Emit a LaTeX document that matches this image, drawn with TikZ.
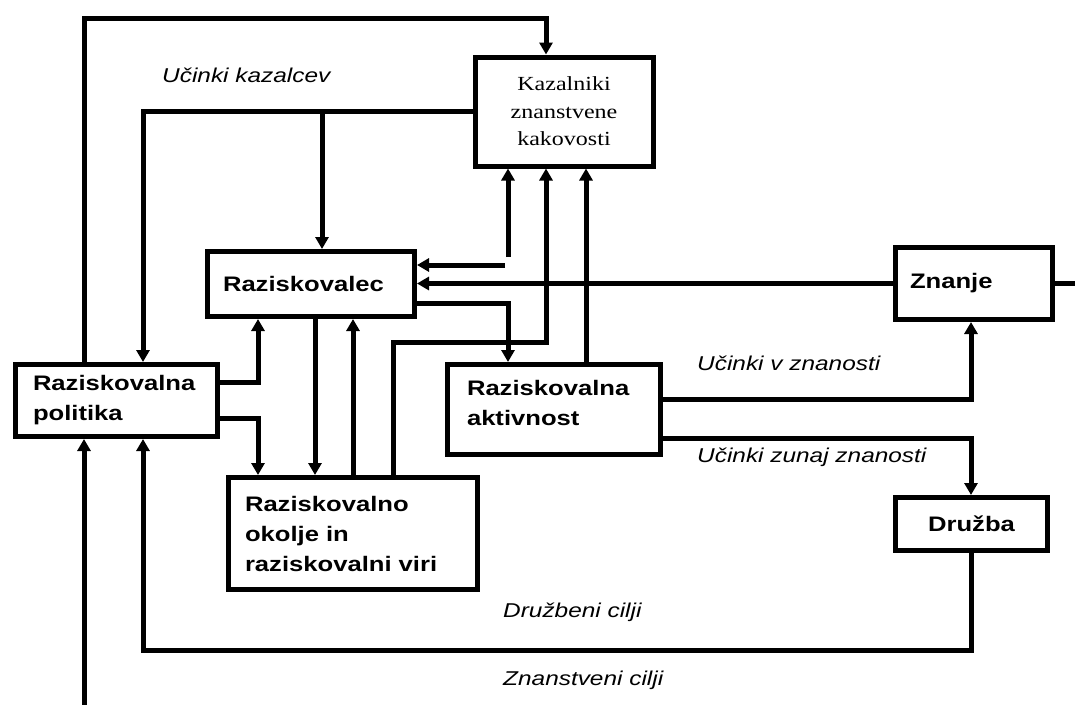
\documentclass[tikz,border=0pt]{standalone}
\usepackage{fontspec}
\usetikzlibrary{arrows.meta}
\newfontfamily\boxfont[FakeStretch=1.22]{Liberation Sans}
\newfontfamily\serfont[FakeStretch=1.2]{Liberation Serif}
\begin{document}
\begin{tikzpicture}[x=1pt,y=-1pt,
  bx/.style={draw, line width=5pt, rectangle, inner ysep=0pt,
    font={\boxfont\bfseries\fontsize{21}{30}\selectfont}},
  ln/.style={line width=5pt},
  arr/.style={line width=5pt, -{Triangle[length=12pt,width=13pt]}},
  lbl/.style={anchor=west, inner sep=0pt, font={\boxfont\itshape\fontsize{20}{24}\selectfont}}]
\fill[white] (0,0) rectangle (1075,704);
\useasboundingbox (0,0) rectangle (1075,704);

% boxes
\node[bx, minimum width=178pt, minimum height=109pt, align=center,
  font={\serfont\fontsize{20}{27.5}\selectfont}] (kaz) at (564,111.5) {Kazalniki\\znanstvene\\kakovosti};
\node[bx, minimum width=207pt, minimum height=65pt, inner xsep=15.5pt, text width=176pt, align=left] (raz) at (311,284) {Raziskovalec};
\node[bx, minimum width=202pt, minimum height=72pt, inner xsep=17.5pt, text width=167pt, align=left] (pol) at (116.5,400.5) {Raziskovalna\\politika};
\node[bx, minimum width=249pt, minimum height=112pt, inner xsep=16.5pt, text width=216pt, align=left] (oko) at (353,533.5) {Raziskovalno\\okolje in\\raziskovalni viri};
\node[bx, minimum width=213pt, minimum height=90pt, inner xsep=19.5pt, text width=174pt, align=left] (akt) at (554,409.5) {Raziskovalna\\aktivnost\\[-16pt]\mbox{}};
\node[bx, minimum width=157pt, minimum height=72pt, inner xsep=14.5pt, text width=128pt, align=left] (zn) at (974,283.5) {Znanje};
\node[bx, minimum width=152pt, minimum height=53pt, align=center] (dr) at (971.5,524) {Družba};

% helper coordinates
\coordinate (x84) at (84,0);
\coordinate (x143) at (143,0);
\coordinate (x258) at (258,0);
\coordinate (x315) at (315,0);
\coordinate (x322) at (322,0);
\coordinate (x353) at (353,0);
\coordinate (x393) at (393,0);
\coordinate (x505) at (505,0);
\coordinate (x508) at (508,0);
\coordinate (x546) at (546,0);
\coordinate (x586) at (586,0);
\coordinate (x971) at (971,0);
\coordinate (xR) at (1085,0);
\coordinate (y18) at (0,18);
\coordinate (y257) at (0,257);
\coordinate (y265) at (0,265);
\coordinate (y303) at (0,303);
\coordinate (y342) at (0,342);
\coordinate (y382) at (0,382);
\coordinate (y418) at (0,418);
\coordinate (y399) at (0,399);
\coordinate (y438) at (0,438);
\coordinate (y650) at (0,650);
\coordinate (y712) at (0,712);

% connectors
\draw[arr] (pol.north -| x84) |- (y18 -| x546) -- (kaz.north -| x546);
\draw[arr] (kaz.west) -| (pol.north -| x143);
\draw[arr] (kaz.west -| x322) -- (raz.north -| x322);
\draw[arr] (y265 -| x505) -- (raz.east |- y265);
\draw[arr] (y257 -| x508) -- (kaz.south -| x508);
\draw[arr] (zn.west) -- (raz.east |- zn.west);
\draw[ln] (zn.east) -- (zn.east -| xR);
\draw[arr] (raz.east |- y303) -| (akt.north -| x508);
\draw[arr] (oko.north -| x393) |- (y342 -| x546) -- (kaz.south -| x546);
\draw[arr] (akt.north -| x586) -- (kaz.south -| x586);
\draw[arr] (raz.south -| x315) -- (oko.north -| x315);
\draw[arr] (oko.north -| x353) -- (raz.south -| x353);
\draw[arr] (pol.east |- y382) -| (raz.south -| x258);
\draw[arr] (pol.east |- y418) -| (oko.north -| x258);
\draw[arr] (akt.east |- y399) -| (zn.south -| x971);
\draw[arr] (akt.east |- y438) -| (dr.north -| x971);
\draw[arr] (dr.south -| x971) |- (y650 -| x143) -- (pol.south -| x143);
\draw[arr] (y712 -| x84) -- (pol.south -| x84);

% labels
\node[lbl] (l1) at (162,75) {Učinki kazalcev};
\node[lbl] (l2) at (697,363) {Učinki v znanosti};
\node[lbl] (l3) at (697,457) {Učinki zunaj znanosti};
\node[lbl] (l4) at (503,612) {Družbeni cilji};
\node[lbl] (l5) at (503,680) {Znanstveni cilji};
\end{tikzpicture}
\end{document}
